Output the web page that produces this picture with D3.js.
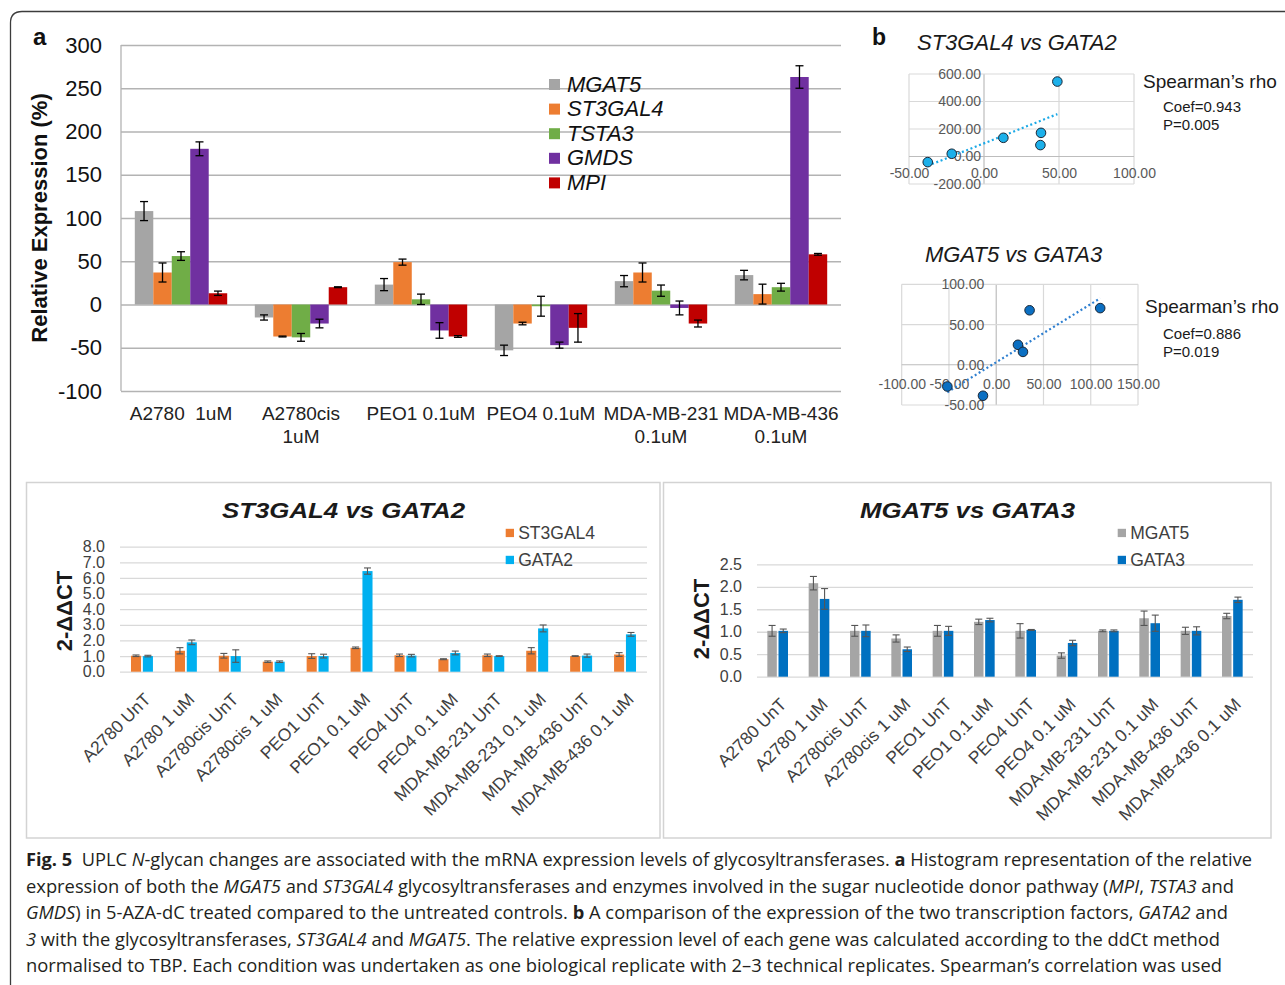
<!DOCTYPE html>
<html>
<head>
<meta charset="utf-8">
<script src="https://d3js.org/d3.v7.min.js"></script>
<style>
  body { margin: 0; background: #fff; }
  svg { display: block; font-family: "Liberation Sans", Arial, sans-serif; }
</style>
</head>
<body>
<svg id="fig" width="1285" height="985"></svg>
<script>
// ---- panel a: relative expression (%) ----
const groupsA = [["A2780  1uM"], ["A2780cis", "1uM"], ["PEO1 0.1uM"], ["PEO4 0.1uM"], ["MDA-MB-231", "0.1uM"], ["MDA-MB-436", "0.1uM"]];
const genesA = ["MGAT5", "ST3GAL4", "TSTA3", "GMDS", "MPI"];
const mgat5A = [108, -15, 23, -53, 27, 34];
const mgat5AErr = [11, 3, 7, 6, 6.5, 5.5];
const st3gal4A = [37, -37, 49, -22, 37, 12];
const st3gal4AErr = [11, 0.5, 3.5, 1.5, 11, 11.5];
const tsta3A = [56, -38, 6, -2, 16, 20];
const tsta3AErr = [5, 4.5, 6, 11.5, 6.5, 4.5];
const gmdsA = [180, -22, -30, -47, -4, 263];
const gmdsAErr = [8, 5, 9, 3.5, 8, 13];
const mpiA = [13, 20, -37, -27, -22, 58];
const mpiAErr = [2.5, 0.5, 1, 16.5, 4, 1];
const yTicksA = [300, 250, 200, 150, 100, 50, 0, -50, -100];

// ---- panel b: scatter plots ----
const scatter1X = [-37.5, -21.5, 12.9, 37.6, 38.0, 48.9];
const scatter1Y = [-41, 20, 136, 83, 172, 545];
const scatter1XTicks = [-50, 0, 50, 100];
const scatter1YTicks = [-200, 0, 200, 400, 600];
const scatter2X = [-51.7, -14, 23, 28.3, 35.3, 110];
const scatter2Y = [-27, -38.5, 24.8, 16, 67.7, 70.4];
const scatter2XTicks = [-100, -50, 0, 50, 100, 150];
const scatter2YTicks = [-50, 0, 50, 100];

// ---- bottom: 2-ddCT bar charts ----
const catsB = ["A2780 UnT", "A2780 1 uM", "A2780cis UnT", "A2780cis 1 uM", "PEO1 UnT", "PEO1 0.1 uM", "PEO4 UnT", "PEO4 0.1 uM", "MDA-MB-231 UnT", "MDA-MB-231 0.1 uM", "MDA-MB-436 UnT", "MDA-MB-436 0.1 uM"];
const st3gal4B = [1.02, 1.34, 1.02, 0.64, 1.0, 1.53, 1.05, 0.8, 1.05, 1.34, 1.0, 1.1];
const st3gal4BErr = [0.05, 0.2, 0.15, 0.05, 0.15, 0.05, 0.08, 0.03, 0.08, 0.2, 0.02, 0.12];
const gata2B = [1.0, 1.88, 1.0, 0.64, 1.0, 6.44, 1.03, 1.2, 1.0, 2.77, 1.03, 2.39];
const gata2BErr = [0.05, 0.15, 0.4, 0.05, 0.12, 0.2, 0.08, 0.12, 0.02, 0.22, 0.1, 0.12];
const yTicksB1 = [0, 1, 2, 3, 4, 5, 6, 7, 8];
const mgat5B = [1.02, 2.08, 1.02, 0.85, 1.02, 1.22, 1.02, 0.47, 1.02, 1.3, 1.02, 1.35];
const mgat5BErr = [0.12, 0.15, 0.12, 0.08, 0.12, 0.06, 0.16, 0.06, 0.02, 0.16, 0.08, 0.06];
const gata3B = [1.02, 1.73, 1.02, 0.61, 1.02, 1.26, 1.04, 0.75, 1.02, 1.19, 1.02, 1.71];
const gata3BErr = [0.04, 0.23, 0.13, 0.05, 0.1, 0.04, 0.01, 0.06, 0.02, 0.18, 0.09, 0.06];
const yTicksB2 = [0, 0.5, 1, 1.5, 2, 2.5];

const FONT = '"Liberation Sans", Arial, sans-serif';
const svg = d3.select("#fig");
svg.append("rect").attr("width", 1285).attr("height", 985).attr("fill", "#fff");

// figure frame (rounded corner top-left)
svg.append("path")
  .attr("d", "M10.5,985 V23 Q10.5,11.5 22,11.5 H1285")
  .attr("fill", "none").attr("stroke", "#3c3c3c").attr("stroke-width", 1.3);

function cleanAxis(g, size, color) {
  g.attr("font-size", size).attr("font-family", FONT);
  g.select(".domain").remove();
  g.selectAll("text").attr("fill", color);
}

// ================= panel a =================
const xA = d3.scaleBand().domain(d3.range(groupsA.length)).range([121, 841]).paddingInner(0.23).paddingOuter(0.115);
const xA1 = d3.scaleBand().domain(genesA).range([0, xA.bandwidth()]);
const yA = d3.scaleLinear().domain([-100, 300]).range([391, 45]);
const colorA = d3.scaleOrdinal().domain(genesA).range(["#a5a5a5", "#ed7d31", "#70ad47", "#7030a0", "#c00000"]);
const seriesA = [mgat5A, st3gal4A, tsta3A, gmdsA, mpiA];
const errsA = [mgat5AErr, st3gal4AErr, tsta3AErr, gmdsAErr, mpiAErr];

const gA = svg.append("g");
gA.append("g").attr("transform", "translate(121,0)")
  .call(d3.axisLeft(yA).tickValues(yTicksA).tickSize(-720).tickPadding(19).tickFormat(d => String(d)))
  .call(g => cleanAxis(g, 22, "#111"))
  .call(g => g.selectAll("line").attr("stroke", "#b3b3b3").attr("stroke-width", 1.3));
gA.append("line").attr("x1", 121).attr("x2", 121).attr("y1", yA(300)).attr("y2", yA(-100))
  .attr("stroke", "#b3b3b3").attr("stroke-width", 1.3);

const barsA = [];
groupsA.forEach((grp, i) => genesA.forEach((gene, j) => barsA.push({ i, gene, v: seriesA[j][i], e: errsA[j][i] })));

gA.selectAll("rect.bar").data(barsA).join("rect").attr("class", "bar")
  .attr("x", d => xA(d.i) + xA1(d.gene))
  .attr("width", xA1.bandwidth())
  .attr("y", d => Math.min(yA(d.v), yA(0)))
  .attr("height", d => Math.abs(yA(d.v) - yA(0)))
  .attr("fill", d => colorA(d.gene));

const errGA = gA.selectAll("g.err").data(barsA).join("g").attr("class", "err")
  .attr("transform", d => `translate(${xA(d.i) + xA1(d.gene) + xA1.bandwidth() / 2},0)`)
  .attr("stroke", "#000").attr("stroke-width", 1.3);
errGA.append("line").attr("y1", d => yA(d.v + d.e)).attr("y2", d => yA(d.v - d.e));
errGA.append("line").attr("x1", -4).attr("x2", 4).attr("y1", d => yA(d.v + d.e)).attr("y2", d => yA(d.v + d.e));
errGA.append("line").attr("x1", -4).attr("x2", 4).attr("y1", d => yA(d.v - d.e)).attr("y2", d => yA(d.v - d.e));

const labA = gA.selectAll("text.xl").data(groupsA).join("text").attr("class", "xl")
  .attr("text-anchor", "middle").attr("font-size", 19).attr("fill", "#222")
  .style("white-space", "pre");
labA.each(function (lines, i) {
  d3.select(this).selectAll("tspan").data(lines).join("tspan")
    .attr("x", xA(i) + xA.bandwidth() / 2)
    .attr("y", (d, k) => 420 + k * 22.5)
    .text(d => d);
});

// legend a
const legA = gA.selectAll("g.leg").data(genesA).join("g").attr("class", "leg")
  .attr("transform", (d, i) => `translate(549,${91.5 + i * 24.6})`);
legA.append("rect").attr("y", -12.5).attr("width", 11).attr("height", 11).attr("fill", d => colorA(d));
legA.append("text").attr("x", 18).attr("font-size", 22).attr("font-style", "italic").attr("fill", "#111").text(d => d);

gA.append("text").attr("transform", "translate(47,218) rotate(-90)").attr("text-anchor", "middle")
  .attr("font-size", 22).attr("font-weight", "bold").attr("fill", "#111").text("Relative Expression (%)");
svg.append("text").attr("x", 33).attr("y", 45).attr("font-size", 24).attr("font-weight", "bold").attr("fill", "#111").text("a");

// ================= panel b =================
svg.append("text").attr("x", 872).attr("y", 45).attr("font-size", 23).attr("font-weight", "bold").attr("fill", "#111").text("b");

function scatter(o) {
  const x = d3.scaleLinear().domain(o.xDomain).range(o.xRange);
  const y = d3.scaleLinear().domain(o.yDomain).range(o.yRange);
  const g = svg.append("g");
  g.selectAll("line.vg").data(o.xTicks).join("line").attr("class", "vg")
    .attr("x1", d => x(d)).attr("x2", d => x(d)).attr("y1", o.yRange[0]).attr("y2", o.yRange[1])
    .attr("stroke", d => d === 0 ? "#bdbdbd" : "#d9d9d9").attr("stroke-width", 1.2);
  g.selectAll("line.hg").data(o.yTicks).join("line").attr("class", "hg")
    .attr("y1", d => y(d)).attr("y2", d => y(d)).attr("x1", o.xRange[0]).attr("x2", o.xRange[1])
    .attr("stroke", d => d === 0 ? "#bdbdbd" : "#d9d9d9").attr("stroke-width", 1.2);

  g.append("g").attr("transform", `translate(${x(0)},0)`)
    .call(d3.axisLeft(y).tickValues(o.yTicks).tickSize(0).tickPadding(o.yPad).tickFormat(d => d.toFixed(2)))
    .call(a => cleanAxis(a, 14, "#595959"));
  g.append("g").attr("transform", `translate(0,${y(0)})`)
    .call(d3.axisBottom(x).tickValues(o.xTicks).tickSize(0).tickPadding(o.xPad).tickFormat(d => d.toFixed(2)))
    .call(a => cleanAxis(a, 14, "#595959"));

  // least-squares trend line
  const mx = d3.mean(o.xs), my = d3.mean(o.ys);
  const slope = d3.sum(o.xs, (v, i) => (v - mx) * (o.ys[i] - my)) / d3.sum(o.xs, v => (v - mx) ** 2);
  const icpt = my - slope * mx;
  const [x0, x1] = d3.extent(o.xs);
  g.append("line").attr("x1", x(x0)).attr("x2", x(x1)).attr("y1", y(icpt + slope * x0)).attr("y2", y(icpt + slope * x1))
    .attr("stroke", o.line).attr("stroke-width", 2.2).attr("stroke-dasharray", "2,2.6");

  g.selectAll("circle").data(o.xs).join("circle")
    .attr("cx", d => x(d)).attr("cy", (d, i) => y(o.ys[i])).attr("r", 4.8)
    .attr("fill", o.fill).attr("stroke", "#1b2736").attr("stroke-width", 1);

  g.append("text").attr("x", o.titleX).attr("y", o.titleY).attr("font-size", 22).attr("font-style", "italic")
    .attr("fill", "#1a1a1a").text(o.title);
  g.append("text").attr("x", o.rhoX).attr("y", o.rhoY).attr("font-size", 19).attr("fill", "#1a1a1a").text("Spearman\u2019s rho");
  g.append("text").attr("x", 1163).attr("y", o.rhoY + o.coefGap).attr("font-size", 15).attr("fill", "#1a1a1a").text(o.coef);
  g.append("text").attr("x", 1163).attr("y", o.rhoY + o.coefGap + 17.8).attr("font-size", 15).attr("fill", "#1a1a1a").text(o.p);
}

scatter({
  xs: scatter1X, ys: scatter1Y, xTicks: scatter1XTicks, yTicks: scatter1YTicks,
  xDomain: [-50, 100], xRange: [909, 1134], yDomain: [-200, 600], yRange: [184, 74],
  yPad: 3, xPad: 11.5, fill: "#1cb0ea", line: "#1ba9e6",
  title: "ST3GAL4 vs GATA2", titleX: 917, titleY: 50,
  rhoX: 1143, rhoY: 88.3, coefGap: 23.4, coef: "Coef=0.943", p: "P=0.005"
});
scatter({
  xs: scatter2X, ys: scatter2Y, xTicks: scatter2XTicks, yTicks: scatter2YTicks,
  xDomain: [-100, 150], xRange: [901.7, 1138], yDomain: [-50, 100], yRange: [405, 284.3],
  yPad: 12, xPad: 14, fill: "#0b6fc2", line: "#2e7fd0",
  title: "MGAT5 vs GATA3", titleX: 925, titleY: 261.7,
  rhoX: 1145, rhoY: 312.7, coefGap: 26.6, coef: "Coef=0.886", p: "P=0.019"
});

// ================= bottom bar charts =================
function pairChart(o) {
  const g = svg.append("g");
  g.append("rect").attr("x", o.box[0]).attr("y", o.box[1]).attr("width", o.box[2]).attr("height", o.box[3])
    .attr("fill", "none").attr("stroke", "#d3d3d3").attr("stroke-width", 1.5);
  const x0 = d3.scaleBand().domain(catsB).range(o.xRange).paddingInner(0.5).paddingOuter(0.25);
  const names = o.series.map(s => s.name);
  const x1 = d3.scaleBand().domain(names).range([0, x0.bandwidth()]).paddingInner(0.15);
  const y = d3.scaleLinear().domain([0, o.yMax]).range(o.yRange);

  g.append("g").attr("transform", `translate(${o.xRange[0]},0)`)
    .call(d3.axisLeft(y).tickValues(o.yTicks).tickSize(-(o.xRange[1] - o.xRange[0])).tickPadding(15).tickFormat(d => d.toFixed(1)))
    .call(a => cleanAxis(a, 16, "#404040"))
    .call(a => a.selectAll("line").attr("stroke", "#d9d9d9").attr("stroke-width", 1.3));

  const bars = [];
  catsB.forEach((c, i) => o.series.forEach(s => bars.push({ c, name: s.name, color: s.color, v: s.values[i], e: s.errs[i] })));
  g.selectAll("rect.bar").data(bars).join("rect").attr("class", "bar")
    .attr("x", d => x0(d.c) + x1(d.name)).attr("width", x1.bandwidth())
    .attr("y", d => y(d.v)).attr("height", d => y(0) - y(d.v)).attr("fill", d => d.color);
  const eg = g.selectAll("g.err").data(bars).join("g").attr("class", "err")
    .attr("transform", d => `translate(${x0(d.c) + x1(d.name) + x1.bandwidth() / 2},0)`)
    .attr("stroke", "#555").attr("stroke-width", 1.1);
  eg.append("line").attr("y1", d => y(d.v + d.e)).attr("y2", d => y(d.v - d.e));
  eg.append("line").attr("x1", -3.5).attr("x2", 3.5).attr("y1", d => y(d.v + d.e)).attr("y2", d => y(d.v + d.e));
  eg.append("line").attr("x1", -3.5).attr("x2", 3.5).attr("y1", d => y(d.v - d.e)).attr("y2", d => y(d.v - d.e));

  g.selectAll("text.xl").data(catsB).join("text").attr("class", "xl")
    .attr("transform", d => `translate(${x0(d) + x0.bandwidth() / 2 + 1},${y(0) + 20}) rotate(-45)`)
    .attr("text-anchor", "end").attr("dy", "0.71em").attr("font-size", 17.5).attr("fill", "#404040").text(d => d);

  g.append("text").attr("x", o.titleX).attr("y", 518).attr("font-size", 22).attr("font-weight", "bold")
    .attr("font-style", "italic").attr("fill", "#1a1a1a")
    .attr("textLength", o.titleLen).attr("lengthAdjust", "spacingAndGlyphs").text(o.title);

  g.append("text").attr("transform", `translate(${o.yTitleX},${o.yTitleY}) rotate(-90)`).attr("text-anchor", "middle")
    .attr("font-size", 22).attr("font-weight", "bold").attr("fill", "#1a1a1a").text("2-\u0394\u0394CT");

  const leg = g.selectAll("g.leg").data(o.series).join("g").attr("class", "leg")
    .attr("transform", (d, i) => `translate(${o.legX},${533 + i * 27})`);
  leg.append("rect").attr("x", 0).attr("y", -4.2).attr("width", 8.3).attr("height", 8.3).attr("fill", d => d.color);
  leg.append("text").attr("x", 12.5).attr("y", 6.3).attr("font-size", 17.5).attr("fill", "#404040").text(d => d.name);
}

pairChart({
  box: [26.5, 482.5, 633.5, 355.5], xRange: [120, 647], yRange: [671.7, 546.7], yMax: 8, yTicks: yTicksB1,
  series: [
    { name: "ST3GAL4", values: st3gal4B, errs: st3gal4BErr, color: "#ed7d31" },
    { name: "GATA2", values: gata2B, errs: gata2BErr, color: "#00b0f0" }
  ],
  title: "ST3GAL4 vs GATA2", titleX: 222, titleLen: 243, yTitleX: 72, yTitleY: 611, legX: 505.7
});
pairChart({
  box: [663.5, 482.5, 607.5, 355.5], xRange: [757, 1253], yRange: [676.7, 564.3], yMax: 2.5, yTicks: yTicksB2,
  series: [
    { name: "MGAT5", values: mgat5B, errs: mgat5BErr, color: "#a5a5a5" },
    { name: "GATA3", values: gata3B, errs: gata3BErr, color: "#0070c0" }
  ],
  title: "MGAT5 vs GATA3", titleX: 860, titleLen: 215, yTitleX: 709, yTitleY: 619, legX: 1117.7
});

// ================= caption =================
const captionLines = [
  [["Fig. 5", "b"], ["  UPLC ", ""], ["N", "i"], ["-glycan changes are associated with the mRNA expression levels of glycosyltransferases. ", ""], ["a", "b"], [" Histogram representation of the relative", ""]],
  [["expression of both the ", ""], ["MGAT5", "i"], [" and ", ""], ["ST3GAL4", "i"], [" glycosyltransferases and enzymes involved in the sugar nucleotide donor pathway (", ""], ["MPI", "i"], [", ", ""], ["TSTA3", "i"], [" and", ""]],
  [["GMDS", "i"], [") in 5-AZA-dC treated compared to the untreated controls. ", ""], ["b", "b"], [" A comparison of the expression of the two transcription factors, ", ""], ["GATA2", "i"], [" and", ""]],
  [["3", "i"], [" with the glycosyltransferases, ", ""], ["ST3GAL4", "i"], [" and ", ""], ["MGAT5", "i"], [". The relative expression level of each gene was calculated according to the ddCt method", ""]],
  [["normalised to TBP. Each condition was undertaken as one biological replicate with 2\u20133 technical replicates. Spearman\u2019s correlation was used", ""]]
];
const captionEnds = [1252, 1234, 1228, 1220, 1222];
const cap = svg.append("g").attr("font-family", '"Open Sans", "Noto Sans", sans-serif').attr("font-size", 17.5).attr("fill", "#231f20");
captionLines.forEach((segs, i) => {
  const t = cap.append("text").attr("x", 26).attr("y", 866 + i * 26.5).style("white-space", "pre")
    .attr("textLength", captionEnds[i] - 26).attr("lengthAdjust", "spacingAndGlyphs");
  segs.forEach(([s, st]) => {
    t.append("tspan").attr("font-weight", st === "b" ? "bold" : null).attr("font-style", st === "i" ? "italic" : null).text(s);
  });
});
</script>
</body>
</html>
